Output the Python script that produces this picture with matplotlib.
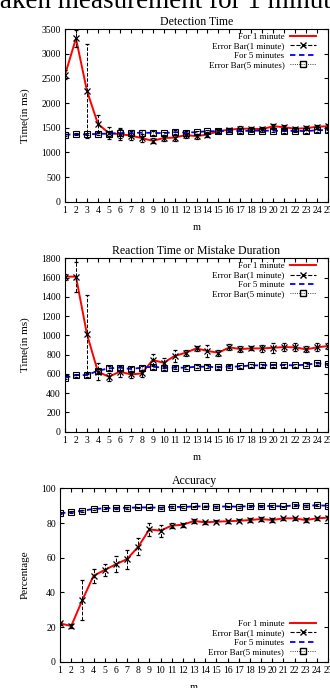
import matplotlib
matplotlib.use("Agg")
import matplotlib.pyplot as plt
from matplotlib.lines import Line2D

plt.rcParams['font.family'] = ['Liberation Serif', 'DejaVu Serif']

m = list(range(1, 26))

# Detection time (ms)
det_1min = [2570, 3310, 2250, 1580, 1390, 1370, 1340, 1290, 1235, 1290, 1300, 1350, 1330, 1360, 1430,
            1460, 1480, 1480, 1470, 1530, 1510, 1480, 1490, 1520, 1530]
det_1min_err = [90, 170, 950, 180, 120, 120, 90, 80, 50, 60, 60, 50, 50, 50, 40,
                40, 50, 40, 50, 50, 40, 40, 40, 40, 40]
det_5min = [1360, 1365, 1365, 1375, 1380, 1390, 1390, 1400, 1395, 1390, 1410, 1400, 1410, 1430, 1430,
            1440, 1430, 1440, 1440, 1440, 1430, 1440, 1430, 1450, 1450]
det_5min_err = [20, 20, 20, 30, 40, 90, 60, 60, 40, 30, 40, 30, 30, 30, 30,
                30, 40, 30, 30, 30, 30, 30, 30, 30, 30]

# Reaction time (ms)
rea_1min = [1610, 1610, 1014, 623, 571, 623, 595, 605, 744, 716, 786, 820, 865, 838, 820,
            876, 858, 865, 865, 872, 879, 876, 855, 876, 890]
rea_1min_err = [30, 155, 410, 90, 40, 50, 40, 40, 60, 50, 60, 30, 30, 60, 30,
                30, 30, 20, 40, 50, 40, 40, 30, 40, 30]
rea_5min = [561, 588, 588, 633, 658, 665, 651, 665, 675, 665, 665, 665, 675, 675, 668,
            675, 678, 689, 689, 692, 692, 689, 696, 710, 703]
rea_5min_err = [15, 15, 20, 20, 20, 20, 20, 20, 20, 20, 15, 15, 15, 15, 15,
                15, 15, 15, 15, 15, 15, 15, 15, 15, 15]

# Accuracy (%)
acc_1min = [22.1, 20.6, 35.6, 49.6, 52.9, 56.2, 59.2, 66.3, 76.3, 75.6, 78.5, 79.0, 81.2, 80.4, 80.8,
            81.0, 81.3, 81.7, 82.3, 81.7, 82.7, 82.7, 81.7, 82.7, 83.1]
acc_1min_err = [1, 1, 11.8, 4, 3.5, 4.5, 5.5, 5, 3.5, 3.5, 1.5, 1.2, 1, 1, 1,
                1, 1, 1, 1, 1, 1, 1, 1, 1, 1]
acc_5min = [85.6, 86.3, 87.1, 88.1, 88.5, 88.7, 88.8, 89.0, 89.0, 88.8, 89.4, 89.2, 89.6, 89.6, 89.4,
            89.6, 89.4, 89.8, 89.8, 89.8, 89.6, 90.2, 90.0, 90.2, 90.0]
acc_5min_err = [0.5] * 25

fig = plt.figure(figsize=(3.3, 6.88), dpi=100)
fig.text(0.497, 1 - 8 / 688, "Taken measurement for 1 minute", ha='center', va='baseline', fontsize=19.5)


def panel(rect, title, y1, e1, y5, e5, yticks, ylabel, labels, legloc, anchor):
    ax = fig.add_axes(rect)
    ax.plot(m, y1, color='red', lw=1.4, zorder=2)
    eb = ax.errorbar(m, y1, yerr=e1, fmt='x', color='black', ms=4, mew=0.9,
                     capsize=1.5, elinewidth=0.7, capthick=0.7, zorder=3)
    eb[2][0].set_linestyle('--')
    ax.plot(m, y5, color='blue', lw=1.3, ls=(0, (3, 2)), zorder=4)
    eb5 = ax.errorbar(m, y5, yerr=e5, fmt='s', color='black', mfc='none', ms=4, mew=0.8,
                      capsize=1.5, elinewidth=0.6, capthick=0.6, zorder=5)
    eb5[2][0].set_linestyle(':')
    ax.set_xlim(1, 25)
    ax.set_ylim(yticks[0], yticks[-1])
    ax.set_xticks(m)
    ax.set_yticks(yticks)
    ax.tick_params(direction='in', top=True, right=True, labelsize=7, length=3, pad=3)
    ax.set_title(title, fontsize=8.5, pad=3)
    ax.set_xlabel("m", fontsize=7.5, labelpad=6)
    ax.set_ylabel(ylabel, fontsize=8, labelpad=8)
    handles = [
        Line2D([], [], color='red', lw=1.4),
        Line2D([], [], color='black', lw=0.8, ls='--', marker='x', ms=4),
        Line2D([], [], color='blue', lw=1.3, ls=(0, (3, 2))),
        Line2D([], [], color='black', lw=0.6, ls=':', marker='s', mfc='none', ms=4),
    ]
    ax.legend(handles, labels, loc=legloc, bbox_to_anchor=anchor, frameon=False, markerfirst=False,
              fontsize=6.5, handlelength=2.9, labelspacing=0.12, handletextpad=0.6, borderaxespad=0)
    return ax


panel([0.197, 0.7068, 0.797, 0.251], "Detection Time", det_1min, det_1min_err, det_5min, det_5min_err,
      list(range(0, 3501, 500)), "Time(in ms)",
      ["For 1 minute", "Error Bar(1 minute)", "For 5 minutes", "Error Bar(5 minutes)"],
      'upper right', (0.968, 1.0))

panel([0.197, 0.3725, 0.797, 0.252], "Reaction Time or Mistake Duration", rea_1min, rea_1min_err,
      rea_5min, rea_5min_err, list(range(0, 1801, 200)), "Time(in ms)",
      ["For 1 minute", "Error Bar(1 minute)", "For 5 minute", "Error Bar(5 minute)"],
      'upper right', (0.968, 1.0))

panel([0.182, 0.0382, 0.812, 0.252], "Accuracy", acc_1min, acc_1min_err, acc_5min, acc_5min_err,
      list(range(0, 101, 20)), "Percentage",
      ["For 1 minute", "Error Bar(1 minute)", "For 5 minutes", "Error Bar(5 minutes)"],
      'lower right', (0.968, 0.01))

fig.savefig("out.png", dpi=100)
